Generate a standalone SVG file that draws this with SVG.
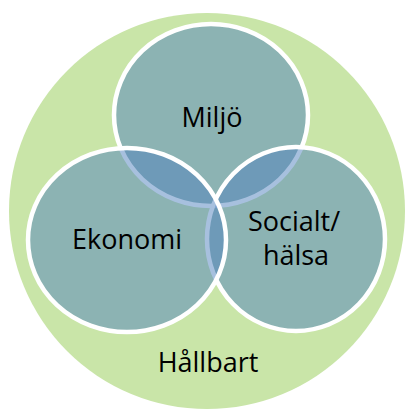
<svg xmlns="http://www.w3.org/2000/svg" width="406" height="412" viewBox="0 0 406 412">
  <style>
    .venn { fill: #4F81BD; fill-opacity: 0.5; stroke: #FFFFFF; stroke-width: 4.5; }
    .lbl { font-family: "Open Sans", "Noto Sans", "Liberation Sans", sans-serif; font-size: 27px; fill: #000000; text-anchor: middle; }
  </style>
  <rect x="0" y="0" width="406" height="412" fill="#FFFFFF"/>
  <g id="hallbart">
    <circle cx="207" cy="211" r="198" fill="#C9E5A8"/>
    <text class="lbl" x="208" y="372">Hållbart</text>
  </g>
  <g id="miljo">
    <ellipse class="venn" cx="211" cy="115" rx="97" ry="91"/>
  </g>
  <g id="socialt">
    <ellipse class="venn" cx="296" cy="239" rx="89" ry="92"/>
  </g>
  <g id="ekonomi">
    <ellipse class="venn" cx="127" cy="240" rx="99" ry="92"/>
  </g>
  <g id="labels">
    <text class="lbl" x="212" y="127">Miljö</text>
    <text class="lbl" x="127" y="249">Ekonomi</text>
    <text class="lbl" x="294" y="231">Socialt/</text>
    <text class="lbl" x="296" y="265">hälsa</text>
  </g>
  <g id="connectors"/>
</svg>
